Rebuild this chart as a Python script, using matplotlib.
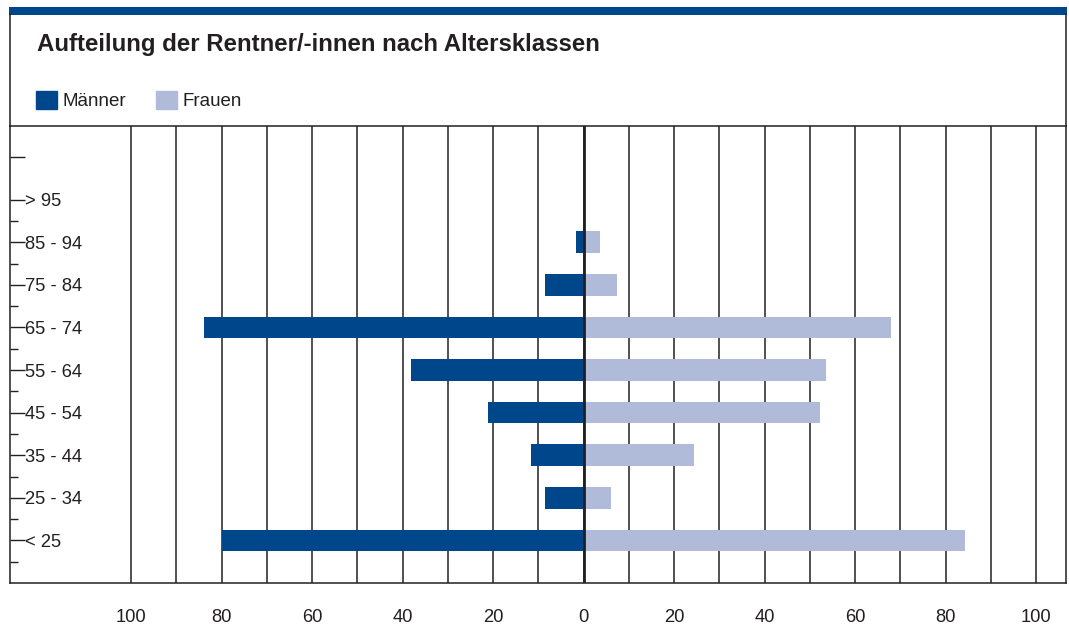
import matplotlib
matplotlib.use("Agg")
import matplotlib.pyplot as plt
from matplotlib.ticker import FixedLocator, FixedFormatter
from matplotlib.patches import Rectangle, Patch
from matplotlib.lines import Line2D

plt.rcParams['font.family'] = ['Liberation Sans', 'DejaVu Sans']

# ---- data ----
categories = ["< 25", "25 - 34", "35 - 44", "45 - 54", "55 - 64", "65 - 74", "75 - 84", "85 - 94", "> 95", ""]
maenner = [80.0, 8.6, 11.7, 21.2, 38.2, 83.9, 8.6, 1.7, 0.0, 0.0]
frauen = [84.2, 6.0, 24.4, 52.2, 53.5, 67.9, 7.3, 3.7, 0.0, 0.0]
xtick_values = [-100, -80, -60, -40, -20, 0, 20, 40, 60, 80, 100]
xtick_labels = ["100", "80", "60", "40", "20", "0", "20", "40", "60", "80", "100"]
grid_values = list(range(-100, 101, 10))
title = "Aufteilung der Rentner/-innen nach Altersklassen"
series_names = ["Männer", "Frauen"]

c_m = "#00468a"
c_f = "#b0bad9"
c_txt = "#231f20"

W, H = 1069, 627
fig = plt.figure(figsize=(W / 100, H / 100), dpi=100)

def fx(px):
    return px / W

def fy(py):
    return 1 - py / H

ax_left, ax_right, ax_top, ax_bot = 9.5, 1066, 126, 583
ax = fig.add_axes([fx(ax_left), fy(ax_bot), fx(ax_right) - fx(ax_left), fy(ax_top) - fy(ax_bot)])

pos = list(range(len(categories)))
neg_m = [-v for v in maenner]
ax.barh(pos, neg_m, height=0.51, color=c_m, zorder=2)
ax.barh(pos, frauen, height=0.51, color=c_f, zorder=2)
ax.axvline(0, color=c_txt, lw=2.0, zorder=3)

ax.set_xlim(-126.9, 106.6)
ax.set_ylim(-1, 9.73)

ax.xaxis.set_major_locator(FixedLocator(xtick_values))
ax.xaxis.set_major_formatter(FixedFormatter(xtick_labels))
ax.xaxis.set_minor_locator(FixedLocator(grid_values))
ax.grid(True, axis='x', which='both', color=c_txt, lw=1.1)
ax.set_axisbelow(True)
ax.tick_params(axis='x', which='both', length=0, pad=18.5, labelsize=13.2, labelcolor=c_txt)

ax.yaxis.set_major_locator(FixedLocator(pos))
ax.yaxis.set_major_formatter(FixedFormatter(categories))
ax.yaxis.set_minor_locator(FixedLocator([p - 0.5 for p in pos[:-1]]))
ax.tick_params(axis='y', which='major', direction='in', length=10.5, width=1.0,
               color=c_txt, pad=-11.5, labelsize=13.2, labelcolor=c_txt)
ax.tick_params(axis='y', which='minor', direction='in', length=5.8, width=1.0, color=c_txt)
for lab in ax.get_yticklabels():
    lab.set_ha('left')

for s in ax.spines.values():
    s.set_color(c_txt)
    s.set_linewidth(1.1)

# frame around title area
fig.add_artist(Line2D([fx(ax_left), fx(ax_left)], [fy(14), fy(ax_top)], color=c_txt, lw=1.1))
fig.add_artist(Line2D([fx(ax_right), fx(ax_right)], [fy(14), fy(ax_top)], color=c_txt, lw=1.1))
fig.add_artist(Rectangle((fx(ax_left - 0.5), fy(14.5)), fx(ax_right + 0.5) - fx(ax_left - 0.5), fy(7) - fy(14.5),
                         color=c_m, lw=0))

fig.text(fx(37), fy(44), title, fontsize=17.3, fontweight='bold', color=c_txt, va='center', ha='left')

handles = [Patch(color=c_m), Patch(color=c_f)]
fig.legend(handles, series_names, loc='center left', bbox_to_anchor=(fx(36), fy(100.5)),
           ncol=2, frameon=False, fontsize=13.5, borderpad=0, borderaxespad=0,
           handlelength=1.1, handleheight=1.1, handletextpad=0.3, columnspacing=1.6,
           labelcolor=c_txt)

fig.savefig("out.png", dpi=100)
